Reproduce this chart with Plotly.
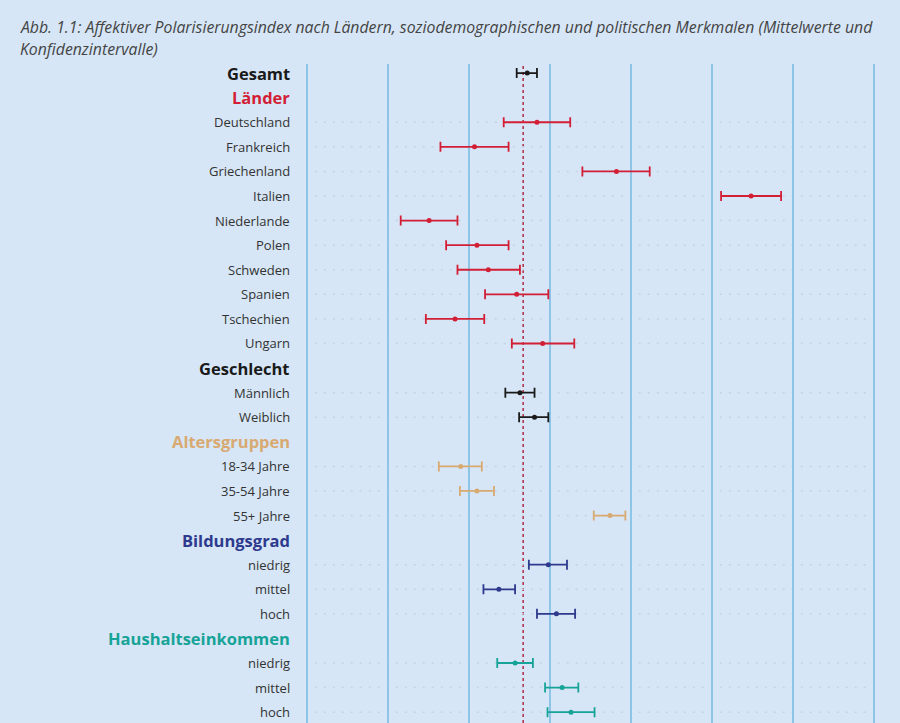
import plotly.graph_objects as go

# ---- data (arbitrary index units; vertical gridlines every 1.0) ----
rows = ["Gesamt", "Länder", "Deutschland", "Frankreich", "Griechenland", "Italien",
        "Niederlande", "Polen", "Schweden", "Spanien", "Tschechien", "Ungarn",
        "Geschlecht", "Männlich", "Weiblich", "Altersgruppen", "18-34 Jahre",
        "35-54 Jahre", "55+ Jahre", "Bildungsgrad", "niedrig", "mittel", "hoch",
        "Haushaltseinkommen", "niedrig", "mittel", "hoch"]
is_header = [True, True, False, False, False, False, False, False, False, False, False, False,
             True, False, False, True, False, False, False, True, False, False, False,
             True, False, False, False]
group = ["gesamt", "laender", "laender", "laender", "laender", "laender", "laender", "laender",
         "laender", "laender", "laender", "laender", "geschlecht", "geschlecht", "geschlecht",
         "alter", "alter", "alter", "alter", "bildung", "bildung", "bildung", "bildung",
         "einkommen", "einkommen", "einkommen", "einkommen"]
mean_val = [2.72, None, 2.84, 2.07, 3.82, 5.48, 1.51, 2.10, 2.24, 2.59, 1.83, 2.91,
            None, 2.63, 2.81, None, 1.90, 2.10, 3.74, None, 2.98, 2.37, 3.08,
            None, 2.57, 3.15, 3.26]
ci_low = [2.59, None, 2.43, 1.65, 3.40, 5.11, 1.16, 1.72, 1.86, 2.20, 1.47, 2.53,
          None, 2.45, 2.62, None, 1.63, 1.89, 3.54, None, 2.74, 2.18, 2.84,
          None, 2.35, 2.94, 2.97]
ci_high = [2.84, None, 3.25, 2.49, 4.23, 5.85, 1.86, 2.49, 2.63, 2.98, 2.19, 3.30,
           None, 2.81, 2.98, None, 2.16, 2.31, 3.93, None, 3.21, 2.57, 3.31,
           None, 2.79, 3.35, 3.55]
overall_mean = 2.67
grid_ticks = [0, 1, 2, 3, 4, 5, 6, 7]
title_lines = ["Abb. 1.1: Affektiver Polarisierungsindex nach Ländern, soziodemographischen und politischen Merkmalen (Mittelwerte und",
               "Konfidenzintervalle)"]

colors = {"gesamt": "#1a1a1a", "laender": "#d21f36", "geschlecht": "#1a1a1a",
          "alter": "#d8aa72", "bildung": "#2e3a8e", "einkommen": "#17a397"}

BG = "#d6e6f6"
W, H = 900, 723
ML, MR, MT, MB = 305, 24, 64, 0
PW, PH = W - ML - MR, H - MT - MB

fig = go.Figure()

n = len(rows)
ypos = list(range(n))

# faint dotted horizontal row lines (data rows only)
for i in ypos:
    if not is_header[i]:
        fig.add_shape(type="line", xref="x", yref="y", x0=0.1, x1=6.95, y0=i, y1=i,
                      line=dict(color="#c2d3e6", width=1.5, dash="2px,7px"), layer="below")

# mean reference line
fig.add_shape(type="line", xref="x", yref="paper", x0=overall_mean, x1=overall_mean,
              y0=0, y1=1, line=dict(color="#b3364f", width=1.6, dash="dot"), layer="below")

for g in ["gesamt", "laender", "geschlecht", "alter", "bildung", "einkommen"]:
    xs, ys, ep, em = [], [], [], []
    for i in ypos:
        if group[i] == g and mean_val[i] is not None:
            xs.append(mean_val[i])
            ys.append(i)
            ep.append(ci_high[i] - mean_val[i])
            em.append(mean_val[i] - ci_low[i])
    fig.add_trace(go.Scatter(
        x=xs, y=ys, mode="markers",
        marker=dict(color=colors[g], size=5),
        error_x=dict(type="data", symmetric=False, array=ep, arrayminus=em,
                     color=colors[g], thickness=1.8, width=5),
        showlegend=False, hoverinfo="skip"))

# row labels
for i in ypos:
    if is_header[i]:
        col = colors[group[i]]
        txt = f"<b>{rows[i]}</b>"
        f = dict(family="Open Sans", size=16.5, color=col)
    else:
        txt = rows[i]
        f = dict(family="Open Sans", size=13, color="#333333")
    fig.add_annotation(x=0, xref="paper", xshift=-13, y=i, yref="y", text=txt,
                       showarrow=False, xanchor="right", yanchor="middle", font=f)

# title (two lines), positioned in figure pixels converted to paper coords
for k, line in enumerate(title_lines):
    py = 27 + 22 * k
    fig.add_annotation(x=(18 - ML) / PW, xref="paper", y=1 + (MT - py) / PH, yref="paper",
                       yanchor="middle", xanchor="left", showarrow=False, text=line,
                       font=dict(family="Open Sans", size=15.8, color="#444444", style="italic"))

fig.update_layout(
    width=W, height=H,
    paper_bgcolor=BG, plot_bgcolor=BG,
    margin=dict(l=ML, r=MR, t=MT, b=MB),
    xaxis=dict(range=[-0.02, 7.02], tickvals=grid_ticks, showticklabels=False,
               showgrid=True, gridcolor="#8cc5e6", gridwidth=2, zeroline=False,
               showline=False, ticks=""),
    yaxis=dict(range=[26.44, -0.37], showticklabels=False, showgrid=False,
               zeroline=False, showline=False, ticks=""),
)

fig.write_html("out.html", config={"displayModeBar": False},
               post_script="document.body.style.margin='0';document.body.style.overflow='hidden';")
